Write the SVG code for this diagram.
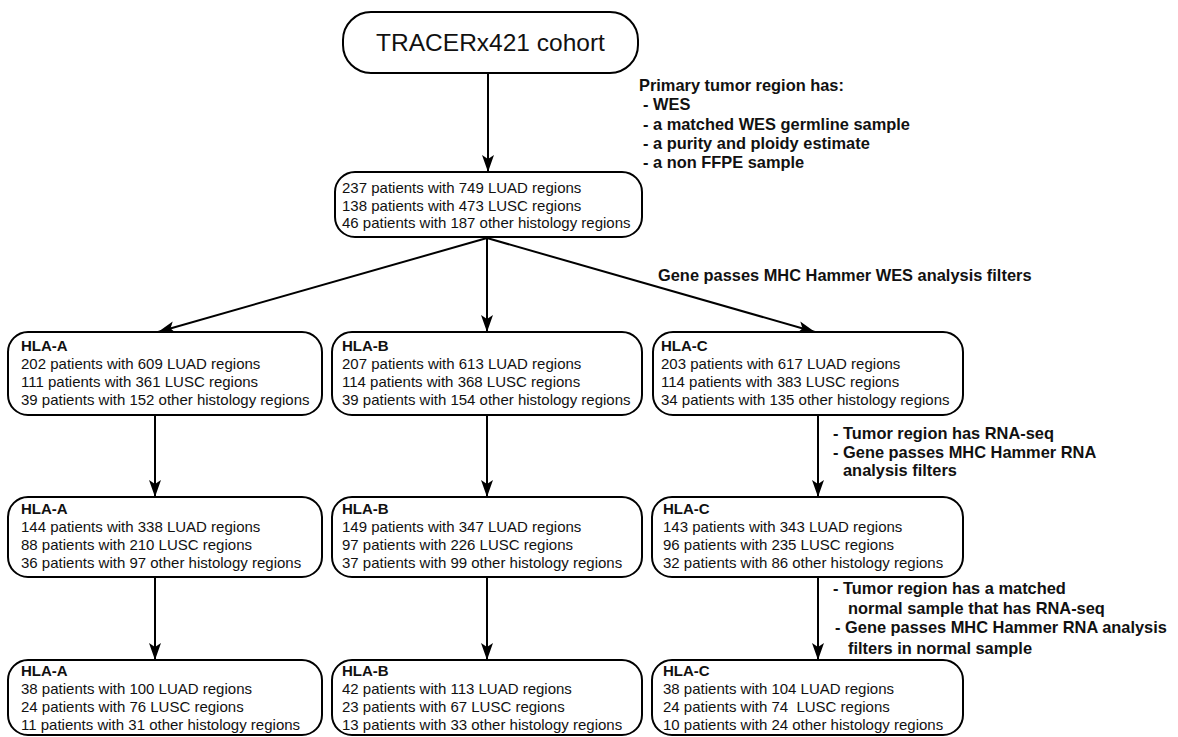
<svg xmlns="http://www.w3.org/2000/svg" width="1178" height="737" viewBox="0 0 1178 737">
<defs>
<marker id="ah" markerUnits="userSpaceOnUse" markerWidth="20" markerHeight="14" viewBox="0 -7 18 14" refX="17" refY="0" orient="auto">
<path d="M0,-6 L17,0 L0,6 L4,0 Z" fill="#000"/>
</marker>
<style>
.box{fill:#fff;stroke:#000;stroke-width:2}
.t{font-family:"Liberation Sans",Arial,sans-serif;font-size:15px;fill:#111}
.b{font-family:"Liberation Sans",Arial,sans-serif;font-size:15px;font-weight:bold;fill:#111}
.lbl{font-family:"Liberation Sans",Arial,sans-serif;font-size:16.4px;font-weight:bold;fill:#111}
.title{font-family:"Liberation Sans",Arial,sans-serif;font-size:24.5px;fill:#111}
.c{fill:none;stroke:#000;stroke-width:2;marker-end:url(#ah)}
</style>
</defs>
<rect width="1178" height="737" fill="#fff"/>

<g id="connectors">
<line class="c" x1="488" y1="74" x2="488" y2="172"/>
<line class="c" x1="487" y1="238" x2="158" y2="332"/>
<line class="c" x1="487" y1="238" x2="487" y2="332"/>
<line class="c" x1="487" y1="238" x2="815" y2="332"/>
<line class="c" x1="155" y1="415" x2="155" y2="497"/>
<line class="c" x1="487" y1="415" x2="487" y2="497"/>
<line class="c" x1="818" y1="415" x2="818" y2="497"/>
<line class="c" x1="155" y1="577" x2="155" y2="660"/>
<line class="c" x1="487" y1="577" x2="487" y2="660"/>
<line class="c" x1="818" y1="577" x2="818" y2="660"/>
</g>

<g id="labels">
<text class="lbl" x="639" y="91">Primary tumor region has:</text>
<text class="lbl" x="643" y="110">- WES</text>
<text class="lbl" x="643" y="130">- a matched WES germline sample</text>
<text class="lbl" x="643" y="149">- a purity and ploidy estimate</text>
<text class="lbl" x="643" y="168">- a non FFPE sample</text>
<text class="lbl" x="658" y="281">Gene passes MHC Hammer WES analysis filters</text>
<text class="lbl" x="833" y="439">- Tumor region has RNA-seq</text>
<text class="lbl" x="833" y="458">- Gene passes MHC Hammer RNA</text>
<text class="lbl" x="843" y="476">analysis filters</text>
<text class="lbl" x="833" y="594">- Tumor region has a matched</text>
<text class="lbl" x="848" y="614">normal sample that has RNA-seq</text>
<text class="lbl" x="835" y="633">- Gene passes MHC Hammer RNA analysis</text>
<text class="lbl" x="848" y="654">filters in normal sample</text>
</g>

<g id="cohort">
<rect class="box" x="343" y="12" width="295" height="61" rx="28"/>
<text class="title" x="490.5" y="51" text-anchor="middle">TRACERx421 cohort</text>
</g>

<g id="all">
<rect class="box" x="335" y="172" width="307" height="65" rx="20"/>
<text class="t" x="342" y="193">237 patients with 749 LUAD regions</text>
<text class="t" x="342" y="211">138 patients with 473 LUSC regions</text>
<text class="t" x="342" y="228">46 patients with 187 other histology regions</text>
</g>

<g id="a1">
<rect class="box" x="8" y="332" width="314" height="83" rx="20"/>
<text class="b" x="21" y="351">HLA-A</text>
<text class="t" x="21" y="369">202 patients with 609 LUAD regions</text>
<text class="t" x="21" y="387">111 patients with 361 LUSC regions</text>
<text class="t" x="21" y="405">39 patients with 152 other histology regions</text>
</g>
<g id="b1">
<rect class="box" x="332" y="332" width="310" height="83" rx="20"/>
<text class="b" x="342" y="351">HLA-B</text>
<text class="t" x="342" y="369">207 patients with 613 LUAD regions</text>
<text class="t" x="342" y="387">114 patients with 368 LUSC regions</text>
<text class="t" x="342" y="405">39 patients with 154 other histology regions</text>
</g>
<g id="c1">
<rect class="box" x="653" y="332" width="310" height="83" rx="20"/>
<text class="b" x="661" y="351">HLA-C</text>
<text class="t" x="661" y="369">203 patients with 617 LUAD regions</text>
<text class="t" x="661" y="387">114 patients with 383 LUSC regions</text>
<text class="t" x="661" y="405">34 patients with 135 other histology regions</text>
</g>

<g id="a2">
<rect class="box" x="8" y="497" width="314" height="80" rx="20"/>
<text class="b" x="21" y="514">HLA-A</text>
<text class="t" x="21" y="532">144 patients with 338 LUAD regions</text>
<text class="t" x="21" y="550">88 patients with 210 LUSC regions</text>
<text class="t" x="21" y="568">36 patients with 97 other histology regions</text>
</g>
<g id="b2">
<rect class="box" x="332" y="497" width="310" height="80" rx="20"/>
<text class="b" x="342" y="514">HLA-B</text>
<text class="t" x="342" y="532">149 patients with 347 LUAD regions</text>
<text class="t" x="342" y="550">97 patients with 226 LUSC regions</text>
<text class="t" x="342" y="568">37 patients with 99 other histology regions</text>
</g>
<g id="c2">
<rect class="box" x="652" y="497" width="311" height="80" rx="20"/>
<text class="b" x="663" y="514">HLA-C</text>
<text class="t" x="663" y="532">143 patients with 343 LUAD regions</text>
<text class="t" x="663" y="550">96 patients with 235 LUSC regions</text>
<text class="t" x="663" y="568">32 patients with 86 other histology regions</text>
</g>

<g id="a3">
<rect class="box" x="8" y="660" width="314" height="75" rx="20"/>
<text class="b" x="21" y="676">HLA-A</text>
<text class="t" x="21" y="694">38 patients with 100 LUAD regions</text>
<text class="t" x="21" y="712">24 patients with 76 LUSC regions</text>
<text class="t" x="21" y="730">11 patients with 31 other histology regions</text>
</g>
<g id="b3">
<rect class="box" x="332" y="660" width="310" height="75" rx="20"/>
<text class="b" x="342" y="676">HLA-B</text>
<text class="t" x="342" y="694">42 patients with 113 LUAD regions</text>
<text class="t" x="342" y="712">23 patients with 67 LUSC regions</text>
<text class="t" x="342" y="730">13 patients with 33 other histology regions</text>
</g>
<g id="c3">
<rect class="box" x="652" y="660" width="311" height="75" rx="20"/>
<text class="b" x="663" y="676">HLA-C</text>
<text class="t" x="663" y="694">38 patients with 104 LUAD regions</text>
<text class="t" x="663" y="712" xml:space="preserve">24 patients with 74  LUSC regions</text>
<text class="t" x="663" y="730">10 patients with 24 other histology regions</text>
</g>
</svg>
